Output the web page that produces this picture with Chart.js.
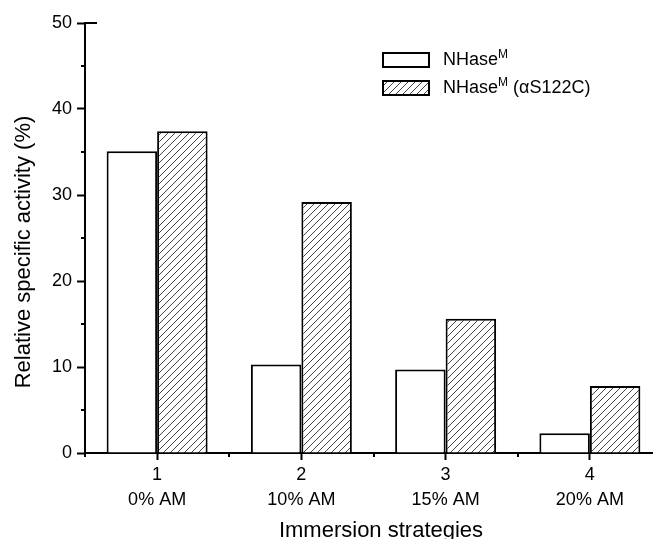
<!DOCTYPE html>
<html>
<head>
<meta charset="utf-8">
<script src="https://cdn.jsdelivr.net/npm/chart.js@4"></script>
<style>
  html, body { margin: 0; padding: 0; background: #fff; overflow: hidden; }
  #wrap { width: 653px; height: 539px; overflow: hidden; }
  canvas { display: block; }
</style>
</head>
<body>
<div id="wrap"><canvas id="chart" width="680" height="539"></canvas></div>
<script>
// ------------------------------
// Data
// ------------------------------
const categories = [["1", "0% AM"], ["2", "10% AM"], ["3", "15% AM"], ["4", "20% AM"]];
const nhaseM = [35.1, 10.3, 9.7, 2.3];
const nhaseMS122C = [37.4, 29.2, 15.6, 7.8];
const yMin = 0;
const yMax = 50;
const yStep = 10;
const yMinorStep = 5;

const xTitle = "Immersion strategies";
const yTitle = "Relative specific activity (%)";

const FONT = "'Liberation Sans', Arial, sans-serif";

// ------------------------------
// Hatch pattern
// ------------------------------
function makeHatch() {
    const c = document.createElement("canvas");
    c.width = 7;
    c.height = 7;
    const g = c.getContext("2d");
    g.fillStyle = "#fff";
    g.fillRect(0, 0, 7, 7);
    g.strokeStyle = "#444";
    g.lineWidth = 1;
    g.beginPath();
    g.moveTo(0, 7); g.lineTo(7, 0);
    g.moveTo(-1, 1); g.lineTo(1, -1);
    g.moveTo(6, 8); g.lineTo(8, 6);
    g.stroke();
    return g.createPattern(c, "repeat");
}
const hatch = makeHatch();

// ------------------------------
// Minor ticks, titles, legend
// ------------------------------
const extras = {
    id: "extras",
    afterDraw(chart) {
        const ctx = chart.ctx;
        const xs = chart.scales.x;
        const ys = chart.scales.y;
        ctx.save();
        ctx.strokeStyle = "#000";
        ctx.lineWidth = 2;
        ctx.beginPath();
        // y minor ticks
        for (let v = yMin + yMinorStep; v < yMax; v += yStep) {
            const py = Math.round(ys.getPixelForValue(v));
            ctx.moveTo(ys.right - 4, py);
            ctx.lineTo(ys.right, py);
        }
        // short inside tick at top
        const pTop = Math.round(ys.getPixelForValue(yMax));
        ctx.moveTo(ys.right, pTop);
        ctx.lineTo(ys.right + 12, pTop);
        // x minor ticks at category boundaries
        const n = categories.length;
        for (let i = 0; i <= n; i++) {
            const px = Math.round(xs.left + i * (xs.width / n));
            ctx.moveTo(px, xs.top);
            ctx.lineTo(px, xs.top + 4);
        }
        ctx.stroke();

        // axis titles
        ctx.fillStyle = "#000";
        ctx.textAlign = "center";
        ctx.textBaseline = "middle";
        ctx.font = "22px " + FONT;
        ctx.fillText(xTitle, 381, 531);
        ctx.save();
        ctx.translate(24, 252);
        ctx.rotate(-Math.PI / 2);
        ctx.fillText(yTitle, 0, 0);
        ctx.restore();

        // legend
        const items = [
            { fill: "#fff", sub: "" },
            { fill: hatch, sub: " (\u03b1S122C)" }
        ];
        items.forEach((it, i) => {
            const bx = 383, by = 53 + i * 28;
            ctx.fillStyle = it.fill;
            ctx.fillRect(bx, by, 46, 14);
            ctx.lineWidth = 2;
            ctx.strokeRect(bx, by, 46, 14);
            ctx.fillStyle = "#000";
            ctx.textBaseline = "middle";
            ctx.textAlign = "left";
            let tx = 443;
            const ty = by + 7;
            ctx.font = "18px " + FONT;
            ctx.fillText("NHase", tx, ty);
            tx += ctx.measureText("NHase").width;
            ctx.font = "12px " + FONT;
            ctx.fillText("M", tx, ty - 5);
            tx += ctx.measureText("M").width;
            ctx.font = "18px " + FONT;
            ctx.fillText(it.sub, tx, ty);
        });
        ctx.restore();
    }
};

// ------------------------------
// Chart
// ------------------------------
new Chart(document.getElementById("chart"), {
    type: "bar",
    data: {
        labels: categories,
        datasets: [
            {
                label: "NHaseM",
                data: nhaseM,
                backgroundColor: "#fff",
                borderColor: "#000",
                borderWidth: 2
            },
            {
                label: "NHaseM (αS122C)",
                data: nhaseMS122C,
                backgroundColor: hatch,
                borderColor: "#000",
                borderWidth: 2
            }
        ]
    },
    options: {
        responsive: false,
        animation: false,
        layout: { padding: { top: 23, right: 18, bottom: 0, left: 0 } },
        datasets: { bar: { categoryPercentage: 0.7, barPercentage: 1.0 } },
        plugins: {
            legend: { display: false },
            tooltip: { enabled: false }
        },
        scales: {
            x: {
                offset: true,
                grid: {
                    offset: false,
                    drawOnChartArea: false,
                    drawTicks: true,
                    tickLength: 7,
                    tickWidth: 2,
                    tickColor: "#000"
                },
                border: { display: true, color: "#000", width: 2 },
                ticks: {
                    color: "#000",
                    padding: 2,
                    maxRotation: 0,
                    font: { family: FONT, size: 18, lineHeight: 1.4 }
                },
                afterFit(scale) { scale.height = 86; }
            },
            y: {
                min: yMin,
                max: yMax,
                grid: {
                    drawOnChartArea: false,
                    drawTicks: true,
                    tickLength: 8,
                    tickWidth: 2,
                    tickColor: "#000"
                },
                border: { display: true, color: "#000", width: 2 },
                ticks: {
                    stepSize: yStep,
                    color: "#000",
                    padding: 5,
                    font: { family: FONT, size: 18 }
                },
                afterFit(scale) { scale.width = 85; }
            }
        }
    },
    plugins: [extras]
});
</script>
</body>
</html>
